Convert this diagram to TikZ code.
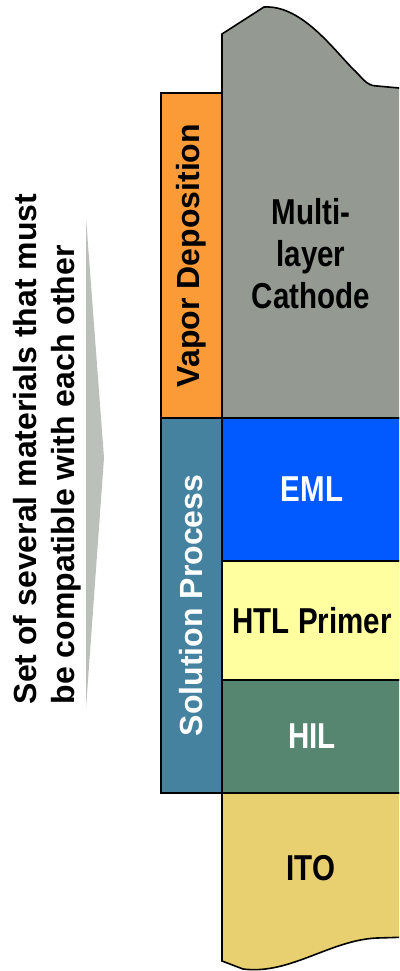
\documentclass[tikz,border=0pt]{standalone}
\usepackage{fontspec}
\setmainfont{Liberation Sans}
\newfontfamily\layerfont[FakeStretch=0.82]{Liberation Sans Bold}
\usetikzlibrary{positioning}

\definecolor{cathodegray}{RGB}{148,154,145}
\definecolor{vaporor}{RGB}{250,155,55}
\definecolor{solblue}{RGB}{68,130,159}
\definecolor{emlblue}{RGB}{0,90,255}
\definecolor{htlyellow}{RGB}{255,255,160}
\definecolor{hilgreen}{RGB}{87,134,112}
\definecolor{itogold}{RGB}{232,207,112}
\definecolor{arrowgray}{RGB}{142,150,140}

\begin{document}
\begin{tikzpicture}[
  x=1pt, y=-1pt,
  layer/.style={draw, line width=1.6pt, outer sep=0pt, inner sep=0pt, minimum width=180pt,
    font=\layerfont\fontsize{36}{42}\selectfont},
  sidebox/.style={draw, line width=1.6pt, outer sep=0pt, inner sep=0pt, rotate=90,
    minimum height=61pt, font=\bfseries\fontsize{32}{38}\selectfont},
  note/.style={inner sep=0pt, rotate=90, align=left, font=\bfseries\fontsize{32}{38}\selectfont},
  edge/.style={line width=1.6pt}
]
\useasboundingbox (0,0) rectangle (399,971);
\clip (0,0) rectangle (399,971);

% compatibility arrow
\shade[top color=arrowgray!60, middle color=arrowgray, bottom color=arrowgray!60]
  (86,218) -- (104,458) -- (86,708) -- cycle;
\node[note] (claim) at (47,449)
  {Set of several materials that must\\be compatible with each other};

% cathode with torn top edge
\draw[edge, fill=cathodegray] (222,418) -- (222,34) -- (264,7)
  .. controls (300,5) and (330,45) .. (352,68)
  .. controls (362,77) and (366,86) .. (377,86) -- (410,89) -- (410,418) -- cycle;
\node[font=\layerfont\fontsize{36}{42}\selectfont, align=center] (cathode) at (311,254)
  {Multi-\\layer\\Cathode};

% solution processed layers
\node[layer, fill=emlblue, text=white, minimum height=143pt, anchor=north west] (eml) at (222,418) {EML};
\node[layer, fill=htlyellow, minimum height=119pt, below=0pt of eml] (htl) {HTL Primer};
\node[layer, fill=hilgreen, text=white, minimum height=113pt, below=0pt of htl] (hil) {HIL};

% substrate with torn bottom edge
\draw[edge, fill=itogold] (222,793) -- (222,961) -- (243,969)
  .. controls (290,975) and (330,940) .. (377,938) -- (410,937) -- (410,793) -- cycle;
\node[font=\layerfont\fontsize{36}{42}\selectfont] (ito) at (311,868) {ITO};

% process labels
\node[sidebox, fill=vaporor, minimum width=325pt] (vapor) at (191.5,255.5) {Vapor Deposition};
\node[sidebox, fill=solblue, text=white, minimum width=375pt] (solution) at (191.5,605.5) {Solution Process};

\end{tikzpicture}
\end{document}
